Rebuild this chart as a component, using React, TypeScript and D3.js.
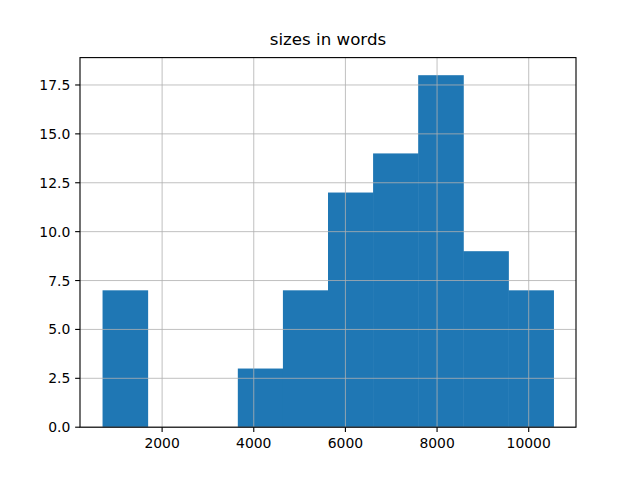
import React from "react";
import * as d3 from "d3";

const title = "sizes in words";
const dataMin = 700;
const dataMax = 10540;
const counts = [7, 0, 0, 3, 7, 12, 14, 18, 9, 7];
const xTicks = [2000, 4000, 6000, 8000, 10000];
const yTicks = [0, 2.5, 5, 7.5, 10, 12.5, 15, 17.5];

const W = 640, H = 480;
const left = 80, right = 576, top = 57.6, bottom = 427.2;
const FONT = "DejaVu Sans, sans-serif";

export default function App() {
  const span = dataMax - dataMin;
  const x = d3.scaleLinear().domain([dataMin - 0.05 * span, dataMax + 0.05 * span]).range([left, right]);
  const yMax = (d3.max(counts) as number) * 1.05;
  const y = d3.scaleLinear().domain([0, yMax]).range([bottom, top]);
  const bw = span / counts.length;
  const bins = counts.map((c, i) => ({ x0: dataMin + i * bw, x1: dataMin + (i + 1) * bw, c }));
  const tl = 4.86;
  return (
    <svg width={W} height={H} style={{ position: "absolute", left: 0, top: 0 }}>
      <rect width={W} height={H} fill="#fff" />
      {bins.map((b, i) => (
        <rect key={i} x={x(b.x0)} y={y(b.c)} width={x(b.x1) - x(b.x0) + 0.5} height={bottom - y(b.c)} fill="#1f77b4" />
      ))}
      {xTicks.map((t) => (
        <line key={"gx" + t} x1={x(t)} x2={x(t)} y1={top} y2={bottom} stroke="#b0b0b0" strokeWidth={0.8} />
      ))}
      {yTicks.map((t) => (
        <line key={"gy" + t} x1={left} x2={right} y1={y(t)} y2={y(t)} stroke="#b0b0b0" strokeWidth={0.8} />
      ))}
      <rect x={left} y={top} width={right - left} height={bottom - top} fill="none" stroke="#000" strokeWidth={1.11} />
      {xTicks.map((t) => (
        <g key={"tx" + t}>
          <line x1={x(t)} x2={x(t)} y1={bottom} y2={bottom + tl} stroke="#000" strokeWidth={1.11} />
          <text x={x(t)} y={bottom + tl + 4.86 + 10.6} textAnchor="middle" fontFamily={FONT} fontSize={13.9} fill="#000">
            {t}
          </text>
        </g>
      ))}
      {yTicks.map((t) => (
        <g key={"ty" + t}>
          <line x1={left - tl} x2={left} y1={y(t)} y2={y(t)} stroke="#000" strokeWidth={1.11} />
          <text x={left - tl - 4.86} y={y(t)} dy="0.36em" textAnchor="end" fontFamily={FONT} fontSize={13.9} fill="#000">
            {t.toFixed(1)}
          </text>
        </g>
      ))}
      <text x={(left + right) / 2} y={top - 8.33 - 4} textAnchor="middle" fontFamily={FONT} fontSize={16.67} fill="#000">
        {title}
      </text>
    </svg>
  );
}
